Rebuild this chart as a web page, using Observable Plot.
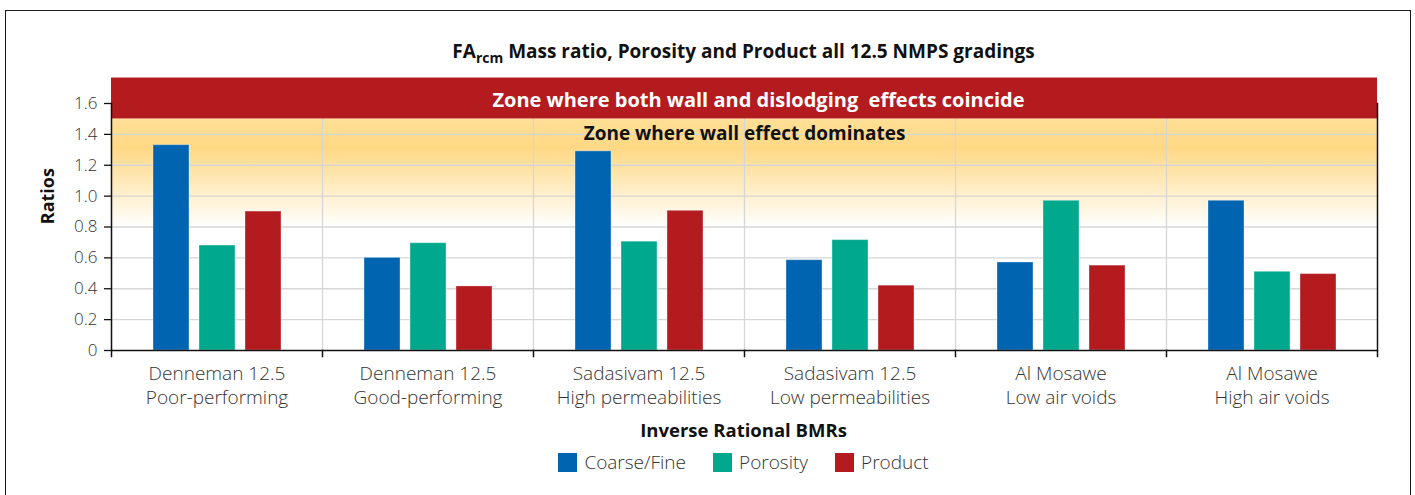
<!DOCTYPE html>
<html><head><meta charset="utf-8">
<script src="https://cdn.jsdelivr.net/npm/d3@7"></script>
<script src="https://cdn.jsdelivr.net/npm/@observablehq/plot@0.6"></script>
<style>
html,body{margin:0;padding:0;background:#fff;}
body{width:1415px;height:495px;position:relative;overflow:hidden;font-family:"Open Sans",sans-serif;}
#frame{position:absolute;left:4.5px;top:10px;width:1404px;height:500px;border:1.5px solid #1a1a1a;border-bottom:none;}
#chart{position:absolute;left:0;top:0;}
#title{position:absolute;left:110px;width:1267px;top:40px;text-align:center;font-weight:700;font-size:19px;line-height:22px;color:#111;white-space:nowrap;}
#title sub{font-size:14px;vertical-align:-5px;line-height:0;}
#xtitle{position:absolute;left:110px;width:1267px;top:419px;text-align:center;font-weight:700;font-size:18.5px;line-height:22px;color:#111;}
#legend{position:absolute;left:110px;width:1267px;top:449px;display:flex;justify-content:center;}
#legend .lg-swatches{font-family:"Open Sans",sans-serif;font-size:19px;font-weight:300;color:#333;margin:0;min-height:21px;}
#legend .lg-swatch{margin-right:27px;}
#legend .lg-swatch:last-child{margin-right:0;}
#legend .lg-swatch > svg{margin-right:7px;}
</style></head>
<body>
<div id="frame"></div>
<div id="title">FA<sub>rcm</sub> Mass ratio, Porosity and Product all 12.5 NMPS gradings</div>
<div id="chart"></div>
<div id="xtitle">Inverse Rational BMRs</div>
<div id="legend"></div>
<script>
const categories = [
  "Denneman 12.5\nPoor-performing",
  "Denneman 12.5\nGood-performing",
  "Sadasivam 12.5\nHigh permeabilities",
  "Sadasivam 12.5\nLow permeabilities",
  "Al Mosawe\nLow air voids",
  "Al Mosawe\nHigh air voids"
];
const series = ["Coarse/Fine", "Porosity", "Product"];
const coarseFine = [1.33, 0.60, 1.29, 0.585, 0.57, 0.97];
const porosity   = [0.68, 0.695, 0.705, 0.715, 0.97, 0.51];
const product    = [0.90, 0.415, 0.905, 0.42, 0.55, 0.495];
const seriesColors = ["#0064B0", "#00A88E", "#B31B1F"];
const yTicks = [0, 0.2, 0.4, 0.6, 0.8, 1.0, 1.2, 1.4, 1.6];
const bothZone = [{label: "Zone where both wall and dislodging  effects coincide", y1: 1.5, y2: 1.765, ty: 1.62}];
const wallZone = [{label: "Zone where wall effect dominates", y1: 0.8, y2: 1.5, ty: 1.40}];
const yLabel = [{label: "Ratios", y: 1.0}];

const valuesBySeries = [coarseFine, porosity, product];
const rows = categories.flatMap((c, i) => series.map((s, j) => ({category: c, series: s, value: valuesBySeries[j][i]})));

const W = 1415, Ht = 495, mL = 110, mR = 38, mT = 103, mB = 145;
const innerH = Ht - mT - mB;
const midCat = categories[2];

const chart = Plot.plot({
  width: W, height: Ht, marginLeft: mL, marginRight: mR, marginTop: mT, marginBottom: mB,
  style: {fontFamily: '"Open Sans", sans-serif', background: "transparent", overflow: "visible"},
  fx: {domain: categories, padding: 0, label: null},
  x: {domain: series, paddingInner: 0.223, paddingOuter: 0.864, axis: null},
  y: {domain: [0, 1.6], label: null},
  color: {domain: series, range: seriesColors},
  marks: [
    Plot.rect(wallZone, {y1: "y1", y2: "y2", fill: "url(#wallGradient)"}),
    Plot.ruleY(yTicks.slice(1), {stroke: "#d6d6d6", strokeWidth: 1.3}),
    Plot.frame({anchor: "left", stroke: "#d6d6d6", strokeWidth: 1.3}),
    Plot.barY(rows, {fx: "category", x: "series", y: "value", fill: "series", stroke: "#fff", strokeOpacity: 0.35, strokeWidth: 1}),
    Plot.rect(bothZone, {y1: "y1", y2: "y2", fill: "#B31B1F"}),
    Plot.ruleY([0], {stroke: "#111", strokeWidth: 1.5}),
    Plot.frame({anchor: "left", stroke: "#111", strokeWidth: 1.5, insetTop: innerH, insetBottom: -6}),
    Plot.frame({anchor: "right", stroke: "#111", strokeWidth: 1.5, insetTop: innerH, insetBottom: -6, facetAnchor: "right"}),
    Plot.frame({anchor: "left", stroke: "#111", strokeWidth: 1.5, facetAnchor: "left"}),
    Plot.frame({anchor: "right", stroke: "#111", strokeWidth: 1.5, facetAnchor: "right"}),
    Plot.axisY({ticks: yTicks, tickSize: 7, text: null, stroke: "#111", strokeWidth: 1.3, label: null}),
    Plot.axisY({ticks: yTicks, tickSize: 0, tickPadding: 14, tickFormat: d => d === 0 ? "0" : d.toFixed(1), fontSize: 17, fontWeight: 300, fill: "#333", label: null}),
    Plot.axisFx({anchor: "bottom", tickSize: 0, tickPadding: 12, fontSize: 19, fontWeight: 300, lineHeight: 1.27, fill: "#333", label: null}),
    Plot.text(yLabel, {y: "y", text: "label", frameAnchor: "left", textAnchor: "middle", dx: -63, rotate: -90, fontSize: 18, fontWeight: "bold", fill: "#111", facetAnchor: "left"}),
    Plot.text(bothZone.map(d => ({...d, category: midCat})), {fx: "category", y: "ty", text: "label", frameAnchor: "right", dx: 14, fill: "white", fontSize: 20, fontWeight: "bold", textAnchor: "middle"}),
    Plot.text(wallZone.map(d => ({...d, category: midCat})), {fx: "category", y: "ty", text: "label", frameAnchor: "right", fill: "#111", fontSize: 19, fontWeight: "bold", textAnchor: "middle"})
  ]
});

const svg = d3.select(chart);
const grad = svg.insert("defs", ":first-child").append("linearGradient")
  .attr("id", "wallGradient").attr("x1", 0).attr("y1", 0).attr("x2", 0).attr("y2", 1);
grad.append("stop").attr("offset", "0%").attr("stop-color", "#FFE097");
grad.append("stop").attr("offset", "27%").attr("stop-color", "#FFD884");
grad.append("stop").attr("offset", "100%").attr("stop-color", "#FFFFFF");
svg.selectAll("text").style("white-space", "pre");
document.getElementById("chart").appendChild(chart);

const legend = Plot.legend({color: {domain: series, range: seriesColors}, swatchSize: 19, className: "lg"});
document.getElementById("legend").appendChild(legend);
</script>
</body></html>
